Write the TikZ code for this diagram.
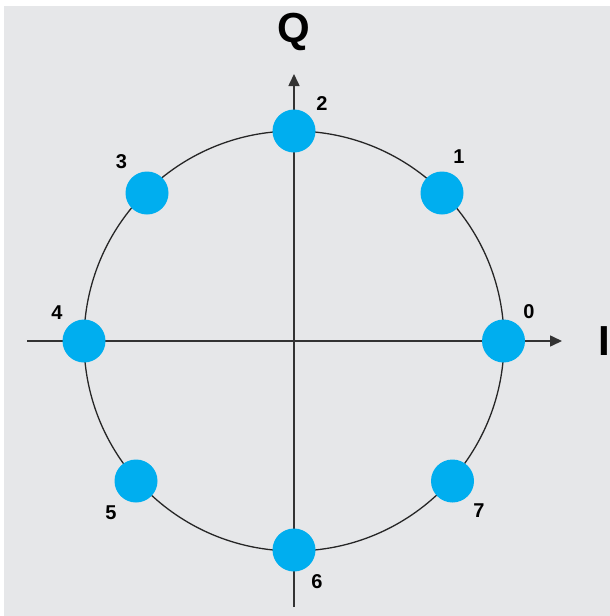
\documentclass[tikz,border=0pt]{standalone}
\usepackage{fontspec}
\setmainfont{Liberation Sans}
\usetikzlibrary{arrows.meta}
\definecolor{bggray}{HTML}{E6E7E9}
\definecolor{dotblue}{HTML}{00AEEF}
\definecolor{axisgray}{HTML}{333333}
\tikzset{
  dot/.style={circle, fill=dotblue, draw=none, inner sep=0pt, minimum size=43pt},
  lbl/.style={font=\bfseries\fontsize{20}{22}\selectfont, inner sep=0pt},
  axlbl/.style={font=\bfseries\fontsize{42}{46}\selectfont, inner sep=0pt},
  axis/.style={line width=1.6pt, draw=axisgray, -{Triangle[length=12pt,width=11pt]}},
}
\begin{document}
\begin{tikzpicture}[x=1pt,y=-1pt]
\useasboundingbox (0,0) rectangle (610,616);
\fill[bggray] (4,6) rectangle (610,616);
\coordinate (c) at (294,341);
\draw[line width=1.3pt, draw=black!85] (c) circle[radius=210pt];
\coordinate (xs) at (27,341);
\coordinate (xe) at (562,341);
\coordinate (ys) at (294,607);
\coordinate (ye) at (294,74);
\draw[axis] (xs) -- (xe);
\draw[axis] (ys) -- (ye);
\node[dot] (d0) at (503.5,341) {};
\node[dot] (d1) at (442,193) {};
\node[dot] (d2) at (294,131) {};
\node[dot] (d3) at (147,193) {};
\node[dot] (d4) at (84,341) {};
\node[dot] (d5) at (136,481) {};
\node[dot] (d6) at (294,550) {};
\node[dot] (d7) at (452.5,481) {};
\node[lbl] (l0) at (529,312) {0};
\node[lbl] (l1) at (459,157) {1};
\node[lbl] (l2) at (322,104) {2};
\node[lbl] (l3) at (121.5,161.5) {3};
\node[lbl] (l4) at (57,313) {4};
\node[lbl] (l5) at (111,513) {5};
\node[lbl] (l6) at (317,582) {6};
\node[lbl] (l7) at (479,511) {7};
\node[axlbl] (q) at (294,32) {Q};
\node[axlbl] (i) at (604,341) {I};
\end{tikzpicture}
\end{document}
